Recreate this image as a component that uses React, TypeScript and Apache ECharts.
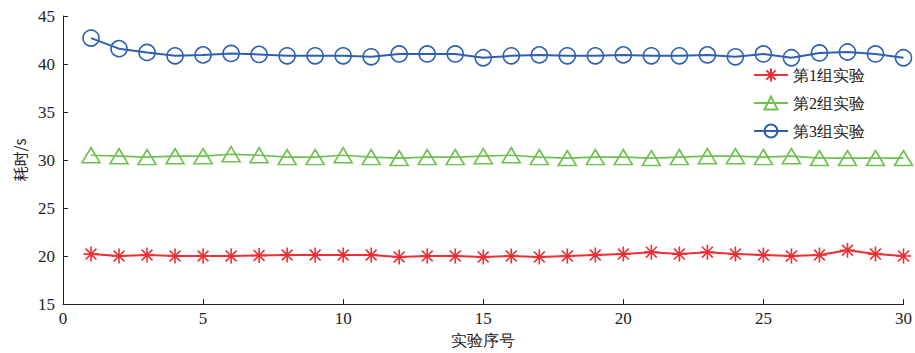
import React, { useEffect, useRef } from "react";
import * as echarts from "echarts";

const xValues = [1, 2, 3, 4, 5, 6, 7, 8, 9, 10, 11, 12, 13, 14, 15, 16, 17, 18, 19, 20, 21, 22, 23, 24, 25, 26, 27, 28, 29, 30];
const group1 = [20.2, 20.0, 20.1, 20.0, 20.0, 20.0, 20.05, 20.1, 20.1, 20.1, 20.1, 19.9, 20.0, 20.0, 19.9, 20.0, 19.9, 20.0, 20.1, 20.2, 20.4, 20.2, 20.4, 20.2, 20.1, 20.0, 20.1, 20.6, 20.2, 20.0];
const group2 = [30.5, 30.4, 30.3, 30.4, 30.4, 30.6, 30.5, 30.3, 30.3, 30.5, 30.3, 30.2, 30.3, 30.3, 30.4, 30.5, 30.3, 30.2, 30.3, 30.3, 30.2, 30.3, 30.4, 30.4, 30.3, 30.4, 30.2, 30.2, 30.2, 30.2];
const group3 = [42.7, 41.6, 41.2, 40.85, 40.95, 41.1, 41.0, 40.85, 40.85, 40.85, 40.75, 41.05, 41.05, 41.05, 40.65, 40.85, 40.95, 40.85, 40.85, 40.95, 40.85, 40.85, 40.95, 40.75, 41.05, 40.65, 41.15, 41.25, 41.05, 40.65];
const seriesNames = ["第1组实验", "第2组实验", "第3组实验"];
const xAxisName = "实验序号";
const yAxisName = "耗时/s";

const RED = "#ee3035";
const GREEN = "#6fc04f";
const BLUE = "#2d5fb3";
const SERIF = "serif";
const SANS = "Noto Sans CJK SC";

const asterisk = "path://M0,-1L0,1M-1,0L1,0M-0.72,-0.72L0.72,0.72M-0.72,0.72L0.72,-0.72";

export default function App() {
  const ref = useRef<HTMLDivElement>(null);
  useEffect(() => {
    if (!ref.current) return;
    const chart = echarts.init(ref.current, undefined, { renderer: "svg" });
    const mk = (vals: number[]) => vals.map((v, i) => [xValues[i], v]);
    chart.setOption({
      animation: false,
      backgroundColor: "#ffffff",
      textStyle: { fontFamily: SERIF },
      grid: { left: 63, right: 10, top: 16, bottom: 49 },
      legend: {
        orient: "vertical",
        left: 748,
        top: 62,
        itemWidth: 34,
        itemHeight: 16,
        itemGap: 12,
        textStyle: { fontFamily: SERIF, fontSize: 16, color: "#222" },
        data: seriesNames,
      },
      xAxis: {
        type: "value",
        min: 0,
        max: 30,
        interval: 5,
        name: xAxisName,
        nameLocation: "middle",
        nameGap: 28,
        nameTextStyle: { fontFamily: SERIF, fontSize: 16, color: "#222" },
        axisLine: { show: true, lineStyle: { color: "#222", width: 1 } },
        axisTick: { show: true, inside: true, length: 5, lineStyle: { color: "#222" } },
        axisLabel: { fontFamily: SERIF, fontSize: 17, color: "#222", margin: 6 },
        splitLine: { show: false },
      },
      yAxis: {
        type: "value",
        min: 15,
        max: 45,
        interval: 5,
        name: yAxisName,
        nameLocation: "middle",
        nameGap: 36,
        nameTextStyle: { fontFamily: SANS, fontSize: 15, color: "#222" },
        axisLine: { show: true, lineStyle: { color: "#222", width: 1 } },
        axisTick: { show: true, inside: true, length: 5, lineStyle: { color: "#222" } },
        axisLabel: { fontFamily: SERIF, fontSize: 17, color: "#222", margin: 8 },
        splitLine: { show: false },
      },
      series: [
        {
          name: seriesNames[0],
          type: "line",
          data: mk(group1),
          symbol: asterisk,
          symbolSize: 15,
          lineStyle: { color: RED, width: 2 },
          itemStyle: { color: "rgba(0,0,0,0)", borderColor: RED, borderWidth: 1.6 },
        },
        {
          name: seriesNames[1],
          type: "line",
          data: mk(group2),
          symbol: "triangle",
          symbolSize: [18, 15],
          lineStyle: { color: GREEN, width: 1.6 },
          itemStyle: { color: "rgba(0,0,0,0)", borderColor: GREEN, borderWidth: 1.6 },
        },
        {
          name: seriesNames[2],
          type: "line",
          data: mk(group3),
          symbol: "circle",
          symbolSize: 16,
          lineStyle: { color: BLUE, width: 2 },
          itemStyle: { color: "rgba(0,0,0,0)", borderColor: BLUE, borderWidth: 1.6 },
        },
      ],
    });
    return () => chart.dispose();
  }, []);
  return (
    <div
      ref={ref}
      style={{ position: "absolute", left: 0, top: 0, width: 915, height: 353 }}
    />
  );
}
